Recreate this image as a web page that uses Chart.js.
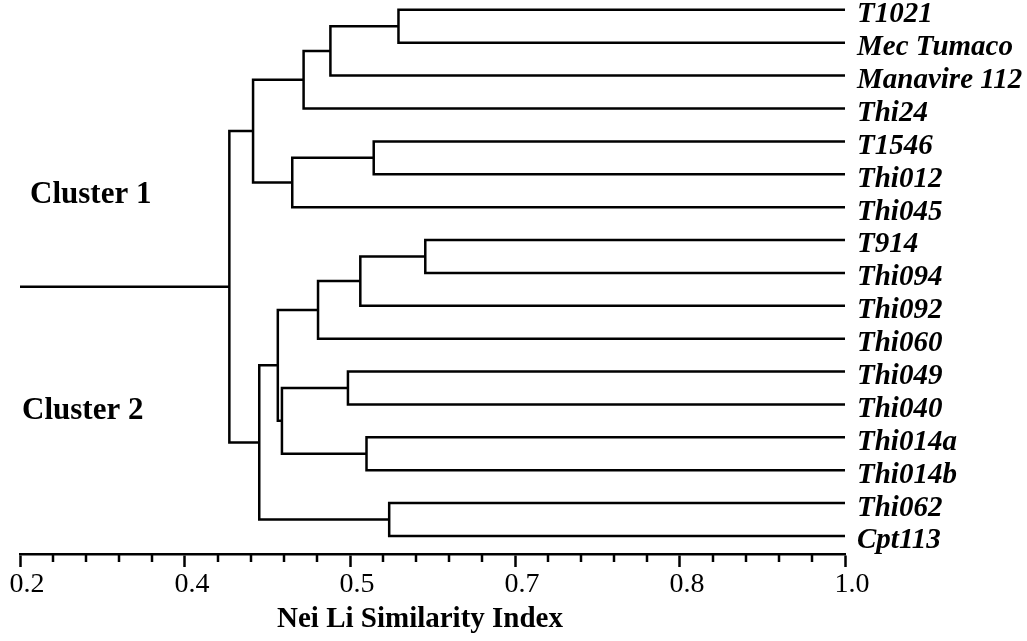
<!DOCTYPE html>
<html>
<head>
<meta charset="utf-8">
<script src="https://cdn.jsdelivr.net/npm/chart.js@4.4.1/dist/chart.umd.min.js"></script>
<style>
  html, body { margin: 0; padding: 0; background: #fff; }
</style>
</head>
<body>
<canvas id="dendro" width="1027" height="641"></canvas>
<script>
const leaves = ['T1021', 'Mec Tumaco', 'Manavire 112', 'Thi24', 'T1546', 'Thi012', 'Thi045',
  'T914', 'Thi094', 'Thi092', 'Thi060', 'Thi049', 'Thi040', 'Thi014a', 'Thi014b', 'Thi062', 'Cpt113'];

// merge i joins two nodes (leaf index, or leaves.length + earlier merge index) at mergeLevel[i]
const mergeLeft  = [0, 17, 18, 4, 20, 19, 7, 23, 24, 11, 13, 26, 25, 15, 29, 22];
const mergeRight = [1, 2, 3, 5, 6, 21, 8, 9, 10, 12, 14, 27, 28, 16, 30, 31];
const mergeLevel = [0.567, 0.501, 0.475, 0.543, 0.464, 0.426, 0.593, 0.530, 0.489, 0.518, 0.536, 0.454, 0.450, 0.558, 0.432, 0.403];

const axisMin = 0.2;
const axisMax = 1.0;
const majorTicks = [0.2, 0.36, 0.52, 0.68, 0.84, 1.0];
const tickLabels = ['0.2', '0.4', '0.5', '0.7', '0.8', '1.0'];
const minorPerMajor = 5;

const serif = '"Liberation Serif", "Times New Roman", serif';
const lineW = 2.5;

// node coordinates: leaves sit at the right edge, merges at their level, midway between children
const nodeX = leaves.map(() => axisMax);
const nodeY = leaves.map((_, i) => i);
mergeLevel.forEach((lvl, i) => {
  nodeX.push(lvl);
  nodeY.push((nodeY[mergeLeft[i]] + nodeY[mergeRight[i]]) / 2);
});

const segments = mergeLevel.map((lvl, i) => {
  const a = mergeLeft[i], b = mergeRight[i];
  return [
    { x: nodeX[a], y: nodeY[a] },
    { x: lvl, y: nodeY[a] },
    { x: lvl, y: nodeY[b] },
    { x: nodeX[b], y: nodeY[b] }
  ];
});
const root = nodeX.length - 1;
segments.push([{ x: axisMin, y: nodeY[root] }, { x: nodeX[root], y: nodeY[root] }]);

const allTicks = [];
majorTicks.forEach((v, i) => {
  allTicks.push(v);
  if (i < majorTicks.length - 1) {
    const step = (majorTicks[i + 1] - v) / minorPerMajor;
    for (let k = 1; k < minorPerMajor; k++) allTicks.push(v + k * step);
  }
});

const annotations = {
  id: 'annotations',
  afterDraw(chart) {
    const { ctx, scales: { x, y } } = chart;
    ctx.save();
    // short minor ticks
    ctx.strokeStyle = '#000';
    ctx.lineWidth = lineW;
    x.ticks.forEach((t, i) => {
      if (i % minorPerMajor === 0) return;
      const px = Math.round(x.getPixelForValue(t.value));
      ctx.beginPath();
      ctx.moveTo(px, x.top);
      ctx.lineTo(px, x.top + 8);
      ctx.stroke();
    });
    ctx.fillStyle = '#000';
    ctx.textBaseline = 'middle';
    ctx.textAlign = 'left';
    ctx.font = 'bold 31px ' + serif;
    ctx.fillText('Cluster 1', x.getPixelForValue(0.2097), y.getPixelForValue(5.63));
    ctx.fillText('Cluster 2', x.getPixelForValue(0.202), y.getPixelForValue(12.2));
    ctx.font = 'bold 29px ' + serif;
    ctx.textAlign = 'center';
    ctx.fillText('Nei Li Similarity Index', 420, 620);
    ctx.restore();
  }
};

new Chart(document.getElementById('dendro'), {
  type: 'scatter',
  data: {
    datasets: segments.map(seg => ({
      data: seg,
      showLine: true,
      borderColor: '#000',
      borderWidth: lineW,
      borderJoinStyle: 'miter',
      pointRadius: 0,
      pointHoverRadius: 0,
      clip: false
    }))
  },
  options: {
    responsive: false,
    animation: false,
    devicePixelRatio: 1,
    layout: { padding: { left: 20, top: 0, right: 0, bottom: 0 } },
    plugins: { legend: { display: false }, tooltip: { enabled: false } },
    scales: {
      x: {
        type: 'linear',
        position: 'bottom',
        min: axisMin,
        max: axisMax,
        afterBuildTicks: s => { s.ticks = allTicks.map(v => ({ value: v })); },
        afterFit: s => { s.height = 87; s.paddingLeft = 0; s.paddingRight = 0; },
        grid: {
          drawOnChartArea: false,
          drawTicks: true,
          tickLength: 13,
          tickWidth: lineW,
          tickColor: c => (c.index % minorPerMajor === 0 ? '#000' : 'rgba(0,0,0,0)')
        },
        border: { display: true, color: '#000', width: lineW },
        ticks: {
          autoSkip: false,
          maxRotation: 0,
          padding: 1,
          labelOffset: 7,
          color: '#000',
          font: { family: serif, size: 28 },
          callback: (v, i) => (i % minorPerMajor === 0 ? tickLabels[i / minorPerMajor] : '')
        }
      },
      y: {
        type: 'linear',
        position: 'right',
        reverse: true,
        min: -0.3,
        max: 16.55,
        afterBuildTicks: s => { s.ticks = leaves.map((_, i) => ({ value: i })); },
        afterFit: s => { s.width = 182; s.paddingTop = 0; s.paddingBottom = 0; },
        grid: { display: false, drawTicks: false },
        border: { display: false },
        ticks: {
          autoSkip: false,
          padding: 12,
          labelOffset: 5,
          color: '#000',
          font: { family: serif, size: 29, weight: 'bold', style: 'italic' },
          callback: v => leaves[v]
        }
      }
    }
  },
  plugins: [annotations]
});
</script>
</body>
</html>
